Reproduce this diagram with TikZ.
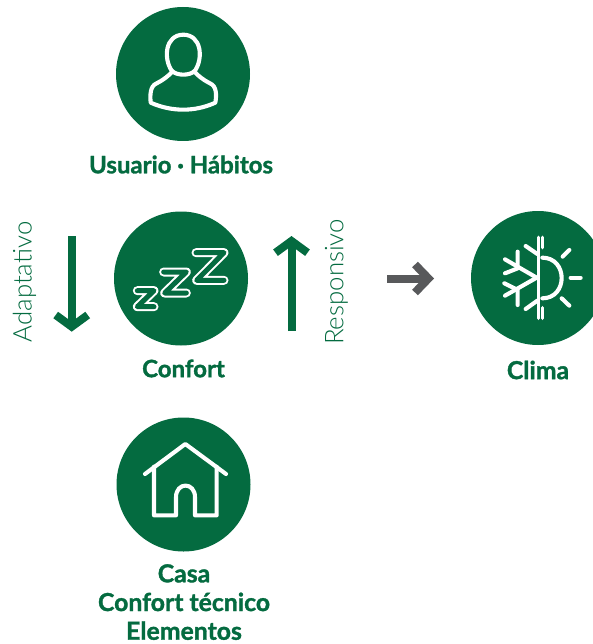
\documentclass[tikz,border=0pt]{standalone}
\usepackage{fontspec}
\setmainfont{Lato}[BoldFeatures={FakeBold=1.3}]
\newfontfamily\lightfont{Lato Light}
\definecolor{fgreen}{HTML}{046B40}
\definecolor{agrey}{HTML}{58595B}
\tikzset{
  disc/.style={circle,fill=fgreen,minimum size=134pt,inner sep=0pt},
  iconline/.style={draw=white,line width=4.1pt,line cap=round,line join=round},
  lab/.style={text=fgreen,font=\fontsize{24}{28.5}\selectfont\bfseries,align=center,inner sep=0pt},
  labb/.style={text=fgreen,font=\fontsize{24.8}{28.7}\selectfont\bfseries,align=center,inner sep=0pt},
  sidelab/.style={text=fgreen,font=\lightfont\fontsize{25.8}{30}\selectfont,rotate=90,inner sep=0pt},
  shaft/.style={line width=8pt,line cap=butt},
  chev/.style={line width=8pt,line cap=butt,line join=miter},
  zout/.style={draw=white,line width=9pt,line cap=round,line join=round},
  zin/.style={draw=fgreen,line width=5pt,line cap=round,line join=round},
  zoomA/.style={x=0.33333pt,y=-0.33333pt}
}
\begin{document}
\begin{tikzpicture}[x=1pt,y=-1pt]
\useasboundingbox (0,0) rectangle (593,644);
\begin{scope}
\clip (0,0) rectangle (593,644);
\node[disc] (user) at (183,74) {};
\node[disc] (conf) at (181,278.5) {};
\node[disc] (clima) at (538,278) {};
\node[disc] (casa) at (183.5,484.5) {};
\end{scope}
% user icon
\begin{scope}[shift={(100pt,-0pt)},zoomA]
\draw[iconline] (215,212) .. controls (190,175) and (195,105) .. (250,104) .. controls (305,105) and (310,175) .. (285,212) .. controls (270,228) and (230,228) .. (215,212) -- cycle;
\draw[iconline] (218,214) .. controls (205,228) and (190,240) .. (170,250) .. controls (150,258) and (150,285) .. (152,308) .. controls (215,336) and (285,336) .. (346,308) .. controls (350,285) and (350,258) .. (330,250) .. controls (310,240) and (295,228) .. (282,214);
\end{scope}
% zzz icon
\begin{scope}[shift={(0pt,-205pt)},zoomA]
\foreach \s in {zout,zin}{
\draw[\s] (588,143) -- (672,143) -- (590,226) -- (672,226);
\draw[\s] (491,201) -- (559,201) -- (494,264) -- (559,264);
\draw[\s] (412,257) -- (462,257) -- (412,305) -- (462,305);
}
\end{scope}
% clima icon
\begin{scope}[shift={(260pt,-205pt)},zoomA]
\draw[iconline,line width=3.4pt] (835,97) -- (835,340);
\draw[iconline,line width=3.4pt] (848,97) -- (848,128);
\draw[iconline,line width=3.4pt] (848,308) -- (848,340);
\draw[iconline] (797,123) -- (832,147);
\draw[iconline] (797,312) -- (832,287);
\draw[iconline] (830,218) -- (735,163);
\draw[iconline] (830,218) -- (735,272);
\draw[iconline] (773,140) -- (773,190) -- (735,205);
\draw[iconline] (733,235) -- (773,255) -- (773,300);
\draw[iconline] (847,158) .. controls (885,158) and (905,188) .. (905,219) .. controls (905,250) and (885,280) .. (847,280);
\draw[iconline] (908,155) -- (928,135);
\draw[iconline] (932,218) -- (962,218);
\draw[iconline] (905,280) -- (928,302);
\end{scope}
% house icon
\begin{scope}[shift={(90pt,-410pt)},zoomA]
\draw[iconline] (165,192) -- (286,102) -- (408,192);
\draw[iconline] (192,170) -- (192,316) -- (258,316) -- (258,262) .. controls (258,215) and (315,215) .. (315,262) -- (315,316) -- (380,316) -- (380,170);
\end{scope}
% arrows
\coordinate (dnA) at (71.7,236);
\coordinate (dnB) at (71.7,326);
\coordinate (upA) at (291.5,331);
\coordinate (upB) at (291.5,241);
\coordinate (riA) at (387,278.5);
\coordinate (riB) at (428,278.5);
\draw[fgreen,shaft] (dnA) -- (dnB);
\draw[fgreen,chev] (55.7,315) -- (71.7,326.7) -- (87.7,315);
\draw[fgreen,shaft] (upA) -- (upB);
\draw[fgreen,chev] (275.5,252.7) -- (upB) -- (307.5,252.7);
\draw[agrey,shaft] (riA) -- (riB);
\draw[agrey,chev] (415,264.5) -- (428.5,278.5) -- (415,292.5);
% labels
\node[lab] (t1) at (181,164.5) {Usuario · Hábitos};
\node[lab] (t2) at (183.5,368.5) {Confort};
\node[labb] (t3) at (538,370) {Clima};
\node[labb,anchor=north] (t4) at (184,564) {Casa\\Confort técnico\\Elementos};
\node[sidelab] (a) at (24.5,282) {Adaptativo};
\node[sidelab] (r) at (336.5,282) {Responsivo};
\end{tikzpicture}
\end{document}
